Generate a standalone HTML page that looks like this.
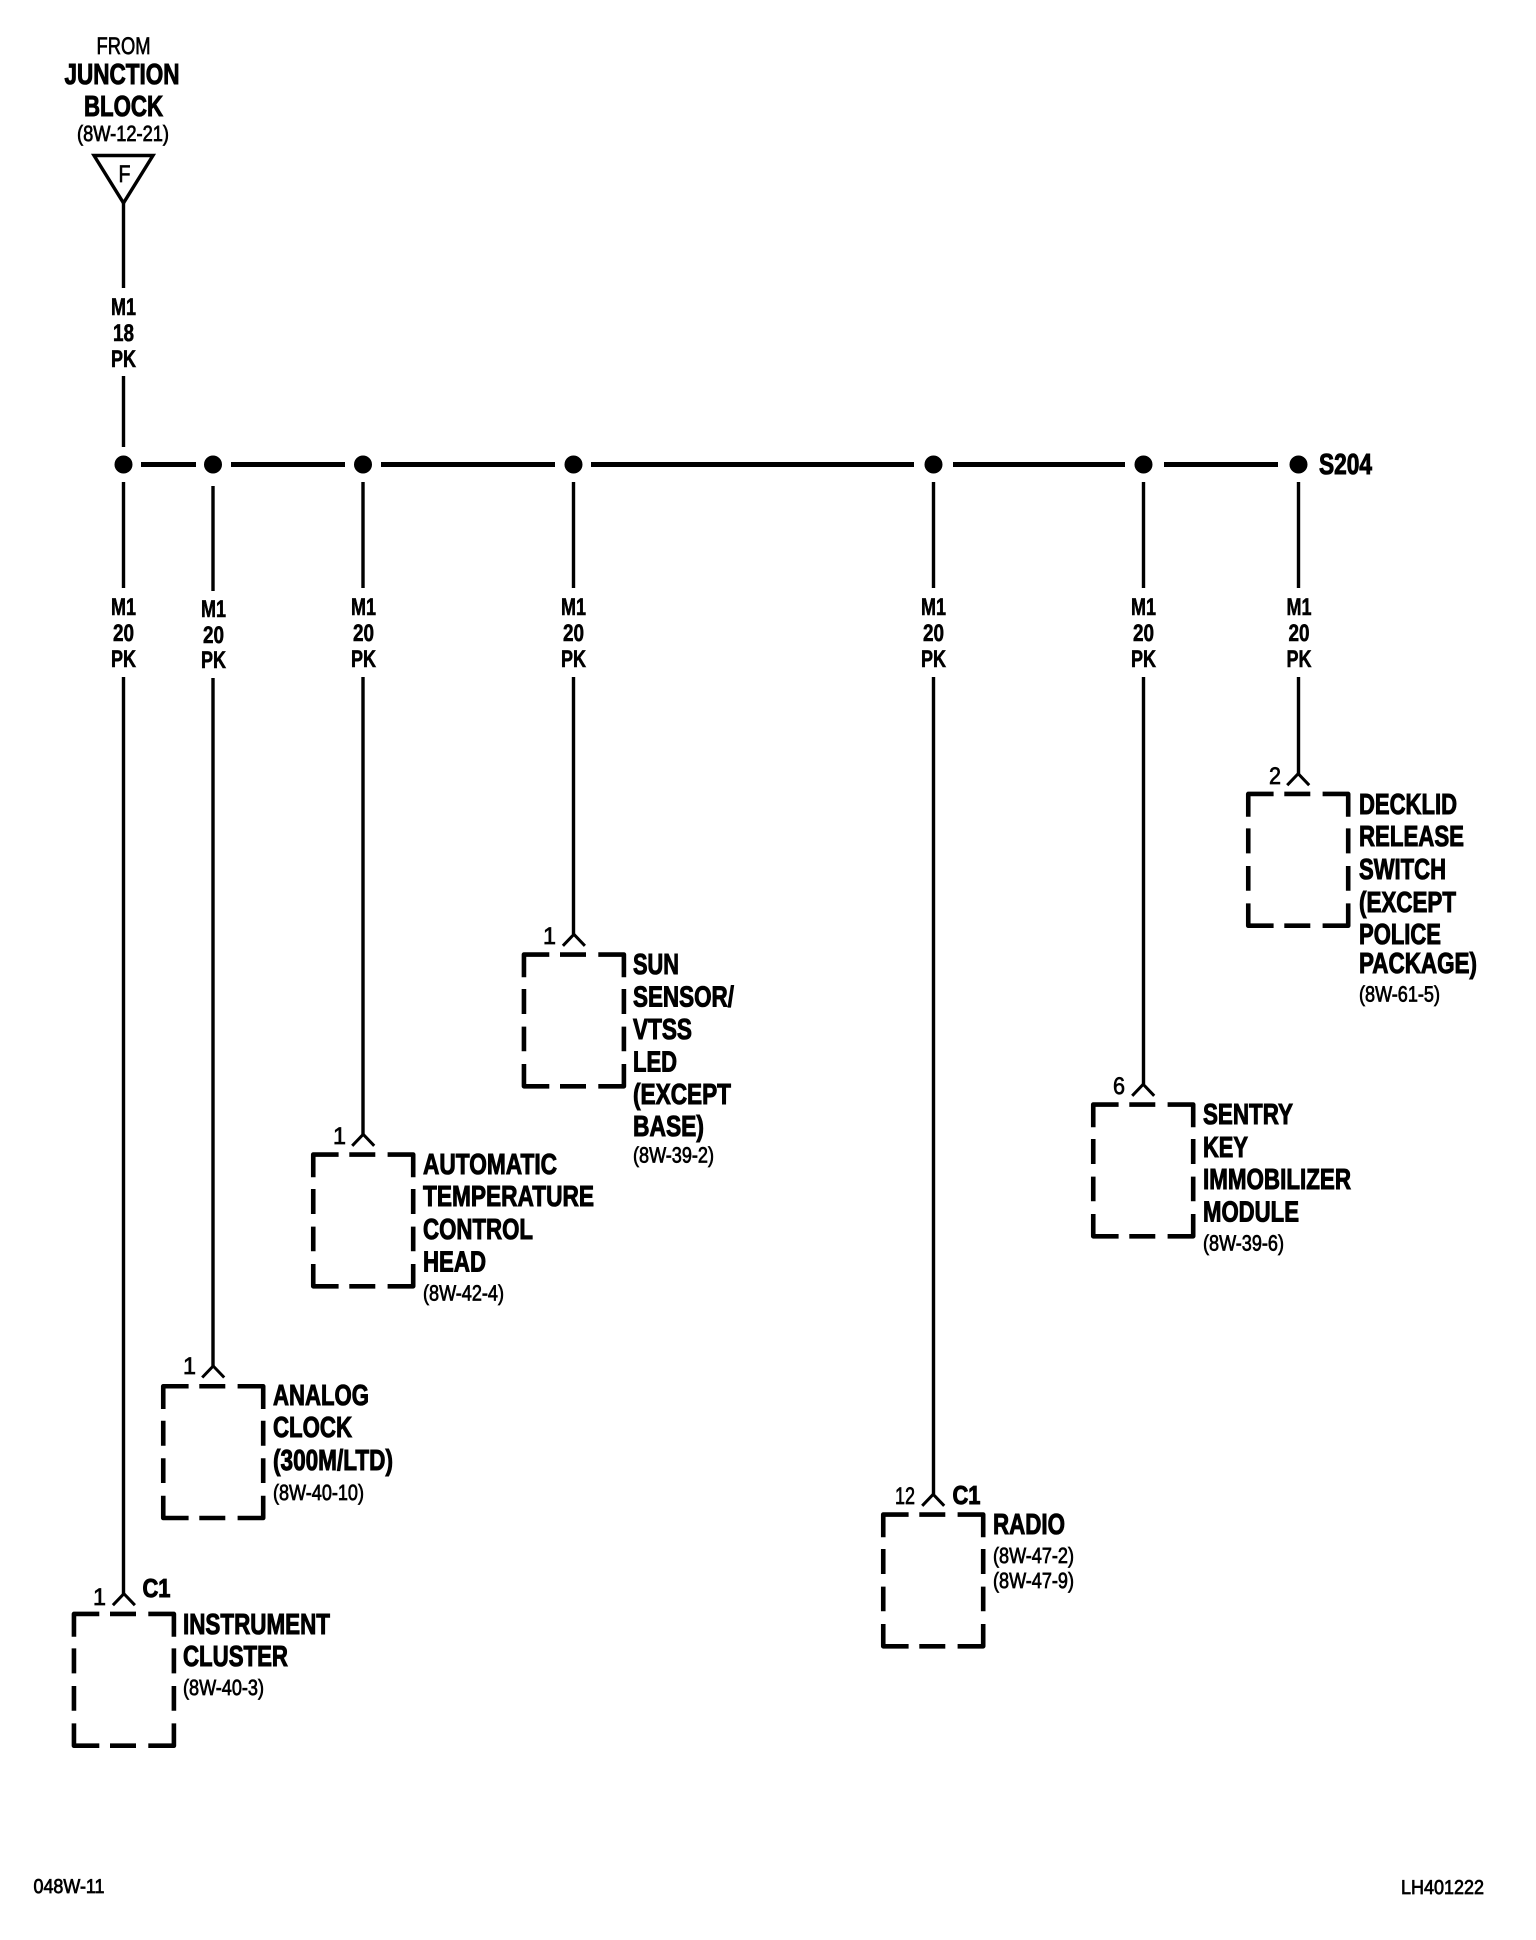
<!DOCTYPE html>
<html><head><meta charset="utf-8"><style>
html,body{margin:0;padding:0;background:#fff}
svg{display:block}
text{font-family:"Liberation Sans",sans-serif;fill:#000;stroke:#000;text-rendering:geometricPrecision}
.b{font-weight:bold;font-size:29px;stroke-width:1}
.s{font-weight:bold;font-size:24px;stroke-width:.6}
.r{font-size:22px;stroke-width:.75}
.n{font-size:24px;stroke-width:.7}
.m{text-anchor:middle}
.w{stroke:#000;stroke-width:3.4;fill:none}
.h{stroke:#000;stroke-width:5;fill:none}
</style></head><body>
<svg xmlns="http://www.w3.org/2000/svg" width="1536" height="1940" viewBox="0 0 1536 1940">
<rect width="1536" height="1940" fill="#fff"/>
<defs><g id="box">
<path fill="none" stroke="#000" stroke-width="4.6" stroke-linejoin="round" d="M2.25 25V2.25H27.6M38.3 2.25H64.3M76.6 2.25H102.2V25M2.25 36.7V61.7M2.25 74.3V99M2.25 111.7V134H27.6M38.3 134H64.3M76.6 134H102.2V111.7M102.2 36.7V61.7M102.2 74.3V99"/>
<path fill="none" stroke="#000" stroke-width="3" d="M41.2 -6.5L52.2 -18L63.2 -6.5"/>
</g></defs>

<!-- header -->
<text class="n m" x="123.5" y="54" textLength="54" lengthAdjust="spacingAndGlyphs">FROM</text>
<text class="b m" x="122" y="84" textLength="115" lengthAdjust="spacingAndGlyphs">JUNCTION</text>
<text class="b m" x="123.5" y="116" textLength="79" lengthAdjust="spacingAndGlyphs">BLOCK</text>
<text class="r m" x="123" y="141" textLength="92" lengthAdjust="spacingAndGlyphs">(8W-12-21)</text>
<path fill="none" stroke="#000" stroke-width="3.4" d="M94 155.5H153L123.5 203Z"/>
<text class="n m" x="124.5" y="182" textLength="12" lengthAdjust="spacingAndGlyphs">F</text>
<path class="w" d="M123.5 203V288M123.5 376V447"/>
<text class="s m" x="123.5" y="315" textLength="25" lengthAdjust="spacingAndGlyphs">M1</text>
<text class="s m" x="123.5" y="341" textLength="21" lengthAdjust="spacingAndGlyphs">18</text>
<text class="s m" x="123.5" y="367" textLength="25" lengthAdjust="spacingAndGlyphs">PK</text>

<!-- bus -->
<path class="h" d="M141 464.5H196M231 464.5H345M381 464.5H555M591 464.5H914M953 464.5H1125M1164 464.5H1278"/>
<g fill="#000">
<circle cx="123.5" cy="464.5" r="9"/><circle cx="213" cy="464.5" r="9"/><circle cx="363" cy="464.5" r="9"/><circle cx="573.5" cy="464.5" r="9"/><circle cx="933.5" cy="464.5" r="9"/><circle cx="1143.5" cy="464.5" r="9"/><circle cx="1298.5" cy="464.5" r="9"/>
</g>
<text class="b" x="1319" y="474" textLength="53" lengthAdjust="spacingAndGlyphs">S204</text>

<!-- wires -->
<path class="w" d="M123.5 482V588M123.5 677V1594M213 486V591M213 678V1366M363 482V588M363 677V1134M573.5 482V588M573.5 677V934M933.5 482V588M933.5 677V1494M1143.5 482V588M1143.5 677V1084M1298.5 482V588M1298.5 677V774"/>

<!-- wire labels -->
<text class="s m" x="123.5" y="615" textLength="25" lengthAdjust="spacingAndGlyphs">M1</text><text class="s m" x="123.5" y="641" textLength="21" lengthAdjust="spacingAndGlyphs">20</text><text class="s m" x="123.5" y="667" textLength="25" lengthAdjust="spacingAndGlyphs">PK</text>
<text class="s m" x="213.5" y="617" textLength="25" lengthAdjust="spacingAndGlyphs">M1</text><text class="s m" x="213.5" y="643" textLength="21" lengthAdjust="spacingAndGlyphs">20</text><text class="s m" x="213.5" y="668" textLength="25" lengthAdjust="spacingAndGlyphs">PK</text>
<text class="s m" x="363.5" y="615" textLength="25" lengthAdjust="spacingAndGlyphs">M1</text><text class="s m" x="363.5" y="641" textLength="21" lengthAdjust="spacingAndGlyphs">20</text><text class="s m" x="363.5" y="667" textLength="25" lengthAdjust="spacingAndGlyphs">PK</text>
<text class="s m" x="573.5" y="615" textLength="25" lengthAdjust="spacingAndGlyphs">M1</text><text class="s m" x="573.5" y="641" textLength="21" lengthAdjust="spacingAndGlyphs">20</text><text class="s m" x="573.5" y="667" textLength="25" lengthAdjust="spacingAndGlyphs">PK</text>
<text class="s m" x="933.5" y="615" textLength="25" lengthAdjust="spacingAndGlyphs">M1</text><text class="s m" x="933.5" y="641" textLength="21" lengthAdjust="spacingAndGlyphs">20</text><text class="s m" x="933.5" y="667" textLength="25" lengthAdjust="spacingAndGlyphs">PK</text>
<text class="s m" x="1143.5" y="615" textLength="25" lengthAdjust="spacingAndGlyphs">M1</text><text class="s m" x="1143.5" y="641" textLength="21" lengthAdjust="spacingAndGlyphs">20</text><text class="s m" x="1143.5" y="667" textLength="25" lengthAdjust="spacingAndGlyphs">PK</text>
<text class="s m" x="1299" y="615" textLength="25" lengthAdjust="spacingAndGlyphs">M1</text><text class="s m" x="1299" y="641" textLength="21" lengthAdjust="spacingAndGlyphs">20</text><text class="s m" x="1299" y="667" textLength="25" lengthAdjust="spacingAndGlyphs">PK</text>

<!-- boxes -->
<use href="#box" x="71.7" y="1611.7"/>
<use href="#box" x="161" y="1384"/>
<use href="#box" x="311" y="1152.3"/>
<use href="#box" x="521.7" y="952.3"/>
<use href="#box" x="881" y="1512.3"/>
<use href="#box" x="1091" y="1102.3"/>
<use href="#box" x="1246" y="791.7"/>

<!-- pin labels -->
<text class="n" x="93" y="1605" textLength="13" lengthAdjust="spacingAndGlyphs">1</text>
<text class="b" x="142.5" y="1597" style="font-size:26px" textLength="28" lengthAdjust="spacingAndGlyphs">C1</text>
<text class="n" x="183" y="1374" textLength="13" lengthAdjust="spacingAndGlyphs">1</text>
<text class="n" x="333" y="1144" textLength="13" lengthAdjust="spacingAndGlyphs">1</text>
<text class="n" x="543" y="944" textLength="13" lengthAdjust="spacingAndGlyphs">1</text>
<text class="n" x="895" y="1504" textLength="20" lengthAdjust="spacingAndGlyphs">12</text>
<text class="b" x="952.5" y="1504" style="font-size:26px" textLength="28" lengthAdjust="spacingAndGlyphs">C1</text>
<text class="n" x="1113" y="1094" textLength="12" lengthAdjust="spacingAndGlyphs">6</text>
<text class="n" x="1269" y="784" textLength="12" lengthAdjust="spacingAndGlyphs">2</text>

<!-- component labels -->
<text class="b" x="183" y="1634" textLength="147" lengthAdjust="spacingAndGlyphs">INSTRUMENT</text>
<text class="b" x="183" y="1666" textLength="105" lengthAdjust="spacingAndGlyphs">CLUSTER</text>
<text class="r" x="183" y="1695" textLength="81" lengthAdjust="spacingAndGlyphs">(8W-40-3)</text>

<text class="b" x="273" y="1405" textLength="96" lengthAdjust="spacingAndGlyphs">ANALOG</text>
<text class="b" x="273" y="1437" textLength="79" lengthAdjust="spacingAndGlyphs">CLOCK</text>
<text class="b" x="273" y="1470" textLength="120" lengthAdjust="spacingAndGlyphs">(300M/LTD)</text>
<text class="r" x="273" y="1500" textLength="91" lengthAdjust="spacingAndGlyphs">(8W-40-10)</text>

<text class="b" x="423" y="1174" textLength="134" lengthAdjust="spacingAndGlyphs">AUTOMATIC</text>
<text class="b" x="423" y="1206" textLength="171" lengthAdjust="spacingAndGlyphs">TEMPERATURE</text>
<text class="b" x="423" y="1239" textLength="110" lengthAdjust="spacingAndGlyphs">CONTROL</text>
<text class="b" x="423" y="1271.5" textLength="63" lengthAdjust="spacingAndGlyphs">HEAD</text>
<text class="r" x="423" y="1300.5" textLength="81" lengthAdjust="spacingAndGlyphs">(8W-42-4)</text>

<text class="b" x="633" y="974" textLength="46" lengthAdjust="spacingAndGlyphs">SUN</text>
<text class="b" x="633" y="1006.5" textLength="101" lengthAdjust="spacingAndGlyphs">SENSOR/</text>
<text class="b" x="633" y="1039" textLength="59" lengthAdjust="spacingAndGlyphs">VTSS</text>
<text class="b" x="633" y="1071.5" textLength="44" lengthAdjust="spacingAndGlyphs">LED</text>
<text class="b" x="633" y="1104" textLength="98" lengthAdjust="spacingAndGlyphs">(EXCEPT</text>
<text class="b" x="633" y="1136" textLength="71" lengthAdjust="spacingAndGlyphs">BASE)</text>
<text class="r" x="633" y="1162.5" textLength="81" lengthAdjust="spacingAndGlyphs">(8W-39-2)</text>

<text class="b" x="993" y="1534" textLength="72" lengthAdjust="spacingAndGlyphs">RADIO</text>
<text class="r" x="993" y="1563" textLength="81" lengthAdjust="spacingAndGlyphs">(8W-47-2)</text>
<text class="r" x="993" y="1588" textLength="81" lengthAdjust="spacingAndGlyphs">(8W-47-9)</text>

<text class="b" x="1203" y="1124" textLength="90" lengthAdjust="spacingAndGlyphs">SENTRY</text>
<text class="b" x="1203" y="1157" textLength="45" lengthAdjust="spacingAndGlyphs">KEY</text>
<text class="b" x="1203" y="1189" textLength="148" lengthAdjust="spacingAndGlyphs">IMMOBILIZER</text>
<text class="b" x="1203" y="1221.5" textLength="96" lengthAdjust="spacingAndGlyphs">MODULE</text>
<text class="r" x="1203" y="1250.5" textLength="81" lengthAdjust="spacingAndGlyphs">(8W-39-6)</text>

<text class="b" x="1359" y="814" textLength="98" lengthAdjust="spacingAndGlyphs">DECKLID</text>
<text class="b" x="1359" y="846" textLength="105" lengthAdjust="spacingAndGlyphs">RELEASE</text>
<text class="b" x="1359" y="879" textLength="87" lengthAdjust="spacingAndGlyphs">SWITCH</text>
<text class="b" x="1359" y="912" textLength="97" lengthAdjust="spacingAndGlyphs">(EXCEPT</text>
<text class="b" x="1359" y="944" textLength="82" lengthAdjust="spacingAndGlyphs">POLICE</text>
<text class="b" x="1359" y="973" textLength="118" lengthAdjust="spacingAndGlyphs">PACKAGE)</text>
<text class="r" x="1359" y="1001.5" textLength="81" lengthAdjust="spacingAndGlyphs">(8W-61-5)</text>

<!-- footer -->
<text class="r" x="33.5" y="1893" style="font-size:20px" textLength="71" lengthAdjust="spacingAndGlyphs">048W-11</text>
<text class="r" x="1401" y="1894" style="font-size:20px" textLength="83" lengthAdjust="spacingAndGlyphs">LH401222</text>
</svg>
</body></html>
